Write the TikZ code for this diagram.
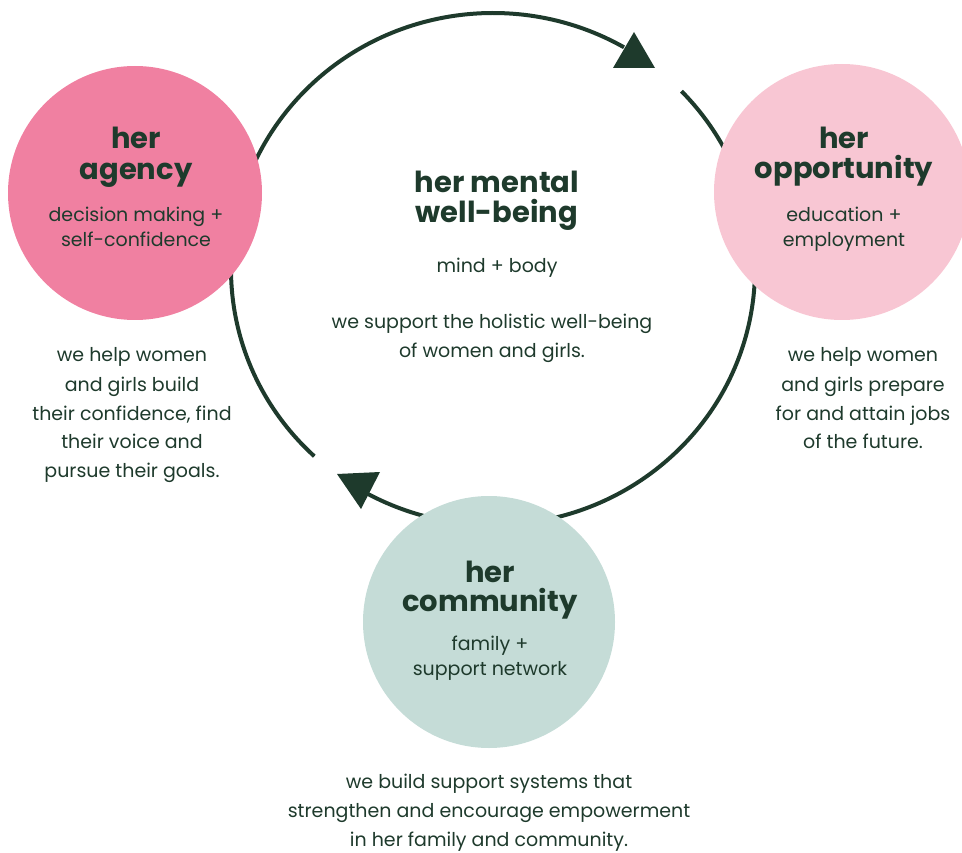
\documentclass[tikz,border=0pt]{standalone}
\usepackage{fontspec}
\setmainfont{Poppins}
\definecolor{dk}{RGB}{30,58,44}
\definecolor{pinkA}{RGB}{240,128,161}
\definecolor{pinkB}{RGB}{248,198,211}
\definecolor{teal}{RGB}{197,220,215}
\begin{document}
\begin{tikzpicture}[x=1pt,y=-1pt,
  every node/.style={inner sep=0pt, anchor=base, text=dk},
  ttl/.style={font=\fontsize{29}{31}\selectfont\bfseries},
  txt/.style={font=\fontsize{19}{25}\selectfont},
  blob/.style={circle, anchor=center, minimum size=#1, draw=none},
  ring/.style={draw=dk, line width=4pt},
  tip/.style={fill=dk}]
\useasboundingbox (0,0) rectangle (962,853);
% ring arcs
\coordinate (c0) at (493,269);
\draw[ring] (c0) ++(133:262 and 256) arc[start angle=133, end angle=300, x radius=262, y radius=256];
\draw[ring] (c0) ++(316:262 and 256) arc[start angle=316, end angle=480, x radius=262, y radius=256];
% arrow heads
\fill[tip] (634,32) -- (613,68) -- (655,68) -- cycle;
\fill[tip] (337,474) -- (380,472) -- (361,509) -- cycle;
% circles
\node[blob=254pt, fill=pinkA] (agency) at (135,193) {};
\node[blob=256pt, fill=pinkB] (opp) at (842,192) {};
\node[blob=252pt, fill=teal] (comm) at (489,622) {};
% agency
\node[ttl] (a1) at (136,149) {her};
\node[ttl] (a2) at (136,180) {agency};
\node[txt] (a3) at (136,222) {decision making +};
\node[txt] (a4) at (136,247) {self-confidence};
% left paragraph
\node[txt] (l1) at (132,362) {we help women};
\node[txt] (l2) at (132,391) {and girls build};
\node[txt] (l3) at (132,420) {their confidence, find};
\node[txt] (l4) at (132,448) {their voice and};
\node[txt] (l5) at (132,477) {pursue their goals.};
% center
\node[ttl] (m1) at (497,193) {her mental};
\node[ttl] (m2) at (497,223) {well-being};
\node[txt] (m3) at (497,273) {mind + body};
\node[txt] (m4) at (492,329) {we support the holistic well-being};
\node[txt] (m5) at (492,357) {of women and girls.};
% opportunity
\node[ttl] (o1) at (844,149) {her};
\node[ttl] (o2) at (844,179) {opportunity};
\node[txt] (o3) at (844,222) {education +};
\node[txt] (o4) at (844,247) {employment};
% right paragraph
\node[txt] (r1) at (863,362) {we help women};
\node[txt] (r2) at (863,391) {and girls prepare};
\node[txt] (r3) at (863,420) {for and attain jobs};
\node[txt] (r4) at (863,448) {of the future.};
% community
\node[ttl] (k1) at (490,582) {her};
\node[ttl] (k2) at (490,611) {community};
\node[txt] (k3) at (490,650) {family +};
\node[txt] (k4) at (490,675) {support network};
% bottom paragraph
\node[txt] (b1) at (489,788) {we build support systems that};
\node[txt] (b2) at (489,817) {strengthen and encourage empowerment};
\node[txt] (b3) at (489,846) {in her family and community.};
\end{tikzpicture}
\end{document}
